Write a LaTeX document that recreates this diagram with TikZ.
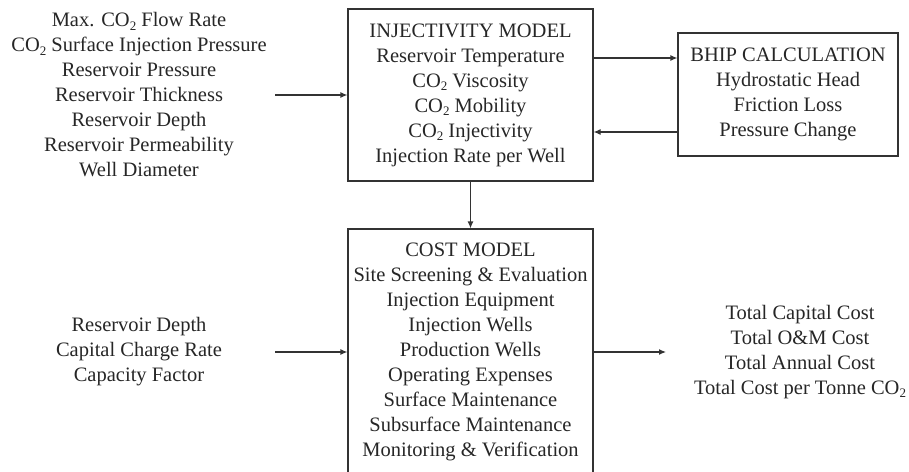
\documentclass[tikz,border=0pt]{standalone}
\usepackage{fontspec}
\setmainfont{Liberation Serif}
\usetikzlibrary{arrows.meta,positioning}
\newcommand{\COtwo}{CO\raisebox{-0.35ex}{\fontsize{13}{13}\selectfont 2}}

\begin{document}
\begin{tikzpicture}[x=1pt,y=-1pt,>={Latex[length=7pt,width=6pt]},
  every node/.style={font=\fontsize{20.5}{25}\selectfont,align=center,text=black!85},
  model/.style={draw=black!80,line width=1.2pt,inner sep=0pt,minimum width=245pt},
  link/.style={draw=black!80,line width=1.2pt,->}]
  \useasboundingbox (0,0) rectangle (909,471);
  \node[model,minimum height=172pt] (Inj) at (470.5,95)
    {INJECTIVITY MODEL\\Reservoir Temperature\\\COtwo{} Viscosity\\
     \COtwo{} Mobility\\\COtwo{} Injectivity\\Injection Rate per Well};
  \node[model,minimum width=220pt,minimum height=123pt] (Bhip) at (788,94.5)
    {BHIP CALCULATION\\Hydrostatic Head\\Friction Loss\\Pressure Change};
  \node[model,minimum height=246pt] (Cost) at (470.5,352)
    {COST MODEL\\Site Screening \& Evaluation\\Injection Equipment\\Injection Wells\\
     Production Wells\\Operating Expenses\\Surface Maintenance\\
     Subsurface Maintenance\\Monitoring \& Verification};
  \node (InjIn) at (139,95)
    {Max. \COtwo{} Flow Rate\\\COtwo{} Surface Injection Pressure\\Reservoir Pressure\\
     Reservoir Thickness\\Reservoir Depth\\Reservoir Permeability\\Well Diameter};
  \node (CostIn) at (139,352)
    {Reservoir Depth\\Capital Charge Rate\\Capacity Factor};
  \node (CostOut) at (800,352)
    {Total Capital Cost\\Total O\&M Cost\\Total Annual Cost\\Total Cost per Tonne \COtwo};
  \coordinate (InjSrc) at (275,95);
  \coordinate (CostSrc) at (275,352);
  \coordinate (CostDst) at (666,352);
  \draw[link] (InjSrc) -- (Inj.west);
  \draw[link] (CostSrc) -- (Cost.west);
  \draw[link] (Cost.east) -- (CostDst);
  \draw[link] ([yshift=37pt]Inj.east) -- ([yshift=37pt]Inj.east -| Bhip.west);
  \draw[link] ([yshift=-37pt]Inj.east -| Bhip.west) -- ([yshift=-37pt]Inj.east);
  \draw[link] (Inj.south) -- (Cost.north);
\end{tikzpicture}
\end{document}
